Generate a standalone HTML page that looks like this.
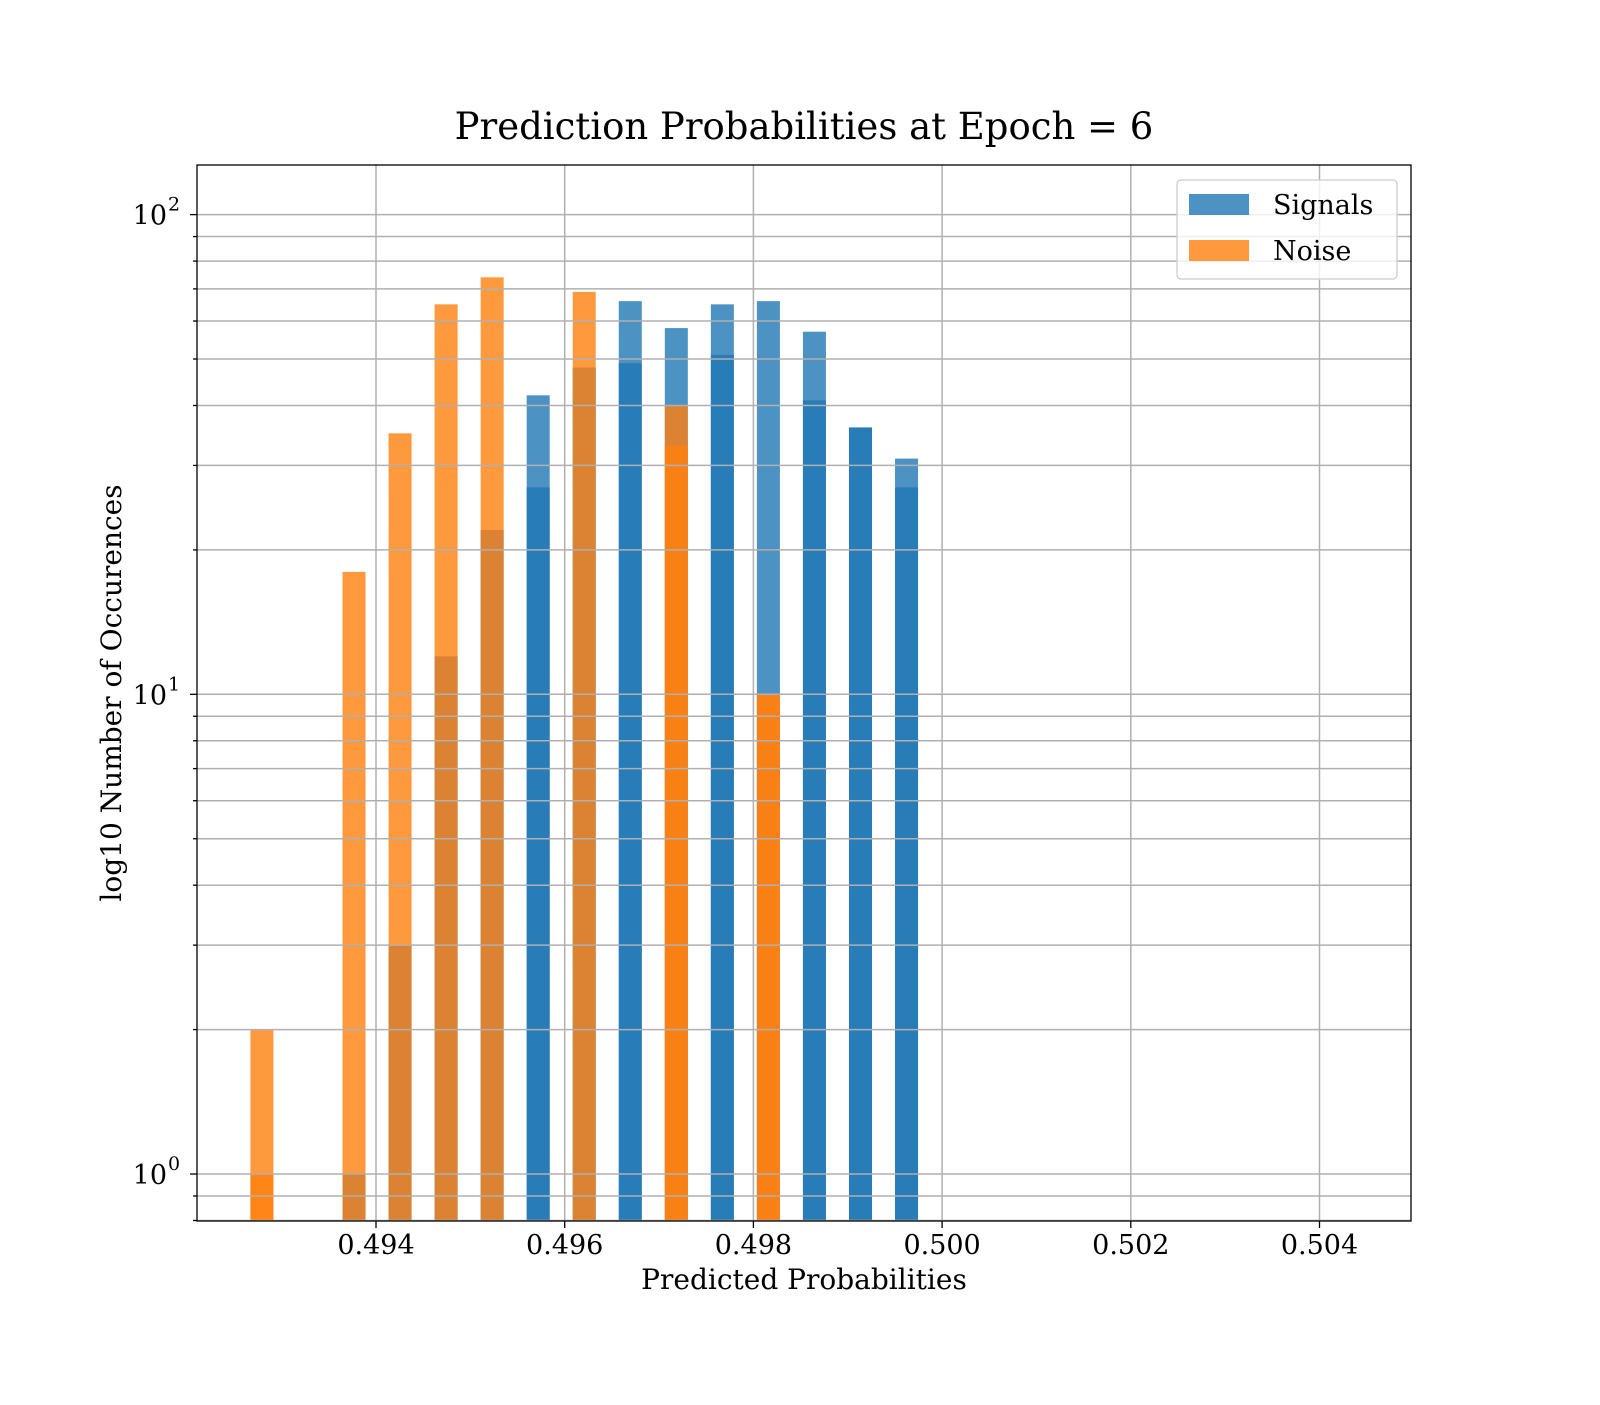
<!DOCTYPE html>
<html><head><meta charset="utf-8"><style>
html,body{margin:0;padding:0;background:#fff}
text{font-family:"DejaVu Serif","Liberation Serif",serif;fill:#000}
</style></head><body>
<svg id="chart" width="1600" height="1400" xmlns="http://www.w3.org/2000/svg">
<rect width="1600" height="1400" fill="#fff"/>
<text x="804" y="139" font-size="37" text-anchor="middle">Prediction Probabilities at Epoch = 6</text>
<g id="bars"></g>
<g id="grid"></g>
<rect x="197" y="165" width="1214" height="1056" fill="none" stroke="#000" stroke-width="1.3"/>
<g id="axes"></g>
<text x="804" y="1289" font-size="28" text-anchor="middle">Predicted Probabilities</text>
<text transform="translate(121,693) rotate(-90)" font-size="28" text-anchor="middle">log10 Number of Occurences</text>
<g>
<rect x="1177" y="180" width="220" height="99" rx="4" fill="#fff" fill-opacity="0.8" stroke="#ccc" stroke-width="1.3"/>
<g><rect x="1189" y="194" width="60" height="21" fill="#1f77b4" fill-opacity="0.8"/><text x="1273" y="214" font-size="27">Signals</text></g>
<g><rect x="1189" y="240" width="60" height="21" fill="#ff7f0e" fill-opacity="0.8"/><text x="1273" y="260" font-size="27">Noise</text></g>
</g>
</svg>
<script>
const binStart = 0.492791;
const binStep = 0.000488;
const binWidth = 0.000244;
const sigA = [0,0,1,3,12,22,42,48,66,58,65,66,57,36,31];
const sigB = [0,0,0,0,0,0,27,0,49,0,51,0,41,36,27];
const noiseA = [2,0,18,35,65,74,0,69,0,40,0,10,0,0,0];
const noiseB = [1,0,0,0,0,0,0,0,0,33,0,10,0,0,0];
const xTicks = [0.494,0.496,0.498,0.500,0.502,0.504];
const xTickLabels = ["0.494","0.496","0.498","0.500","0.502","0.504"];
const yDecades = [0,1,2];

const NS="http://www.w3.org/2000/svg";
const X0=197,X1=1411,Y0=165,Y1=1221;
function xs(v){return 376+(v-0.494)/0.002*188.7;}
function ys(v){return 1174-Math.log10(v)*479.7;}
function mk(tag,attrs,parent){const e=document.createElementNS(NS,tag);for(const k in attrs)e.setAttribute(k,attrs[k]);parent.appendChild(e);return e;}
const bars=document.getElementById('bars');
const series=[[sigA,'#1f77b4','signal'],[sigB,'#1f77b4','signal'],[noiseA,'#ff7f0e','noise'],[noiseB,'#ff7f0e','noise']];
series.forEach(([arr,col,nm])=>{
  arr.forEach((v,i)=>{
    if(v<=0)return;
    const c=binStart+i*binStep;
    const xl=xs(c-binWidth/2), xr=xs(c+binWidth/2);
    const yt=ys(v);
    const r=mk('rect',{x:xl,y:yt,width:xr-xl,height:Y1-yt,fill:col,'fill-opacity':0.8},bars);
    
    
  });
});
const grid=document.getElementById('grid');
const axes=document.getElementById('axes');
xTicks.forEach((t,i)=>{
  const x=xs(t);
  const g=mk('line',{x1:x,x2:x,y1:Y0,y2:Y1,stroke:'#b0b0b0','stroke-width':1.5},grid);
  
  
  mk('line',{x1:x,x2:x,y1:Y1,y2:Y1+7,stroke:'#000','stroke-width':1.3},axes);
  const tx=mk('text',{x:x,y:Y1+33,'font-size':27,'text-anchor':'middle'},axes);
  tx.textContent=xTickLabels[i];
  
  
});
for(let d=-1;d<=2;d++){
  for(let m=1;m<=9;m++){
    const v=m*Math.pow(10,d);
    const y=ys(v);
    if(y<Y0||y>Y1)continue;
    const g=mk('line',{x1:X0,x2:X1,y1:y,y2:y,stroke:'#b0b0b0','stroke-width':1.5},grid);
    
    
    mk('line',{x1:X0-(m===1?7:4),x2:X0,y1:y,y2:y,stroke:'#000','stroke-width':1.3},axes);
  }
}
yDecades.forEach(d=>{
  const y=ys(Math.pow(10,d));
  const t=mk('text',{x:X0-30,y:y+10,'font-size':27,'text-anchor':'end'},axes);
  t.textContent='10';
  
  
  const s=mk('text',{x:X0-29,y:y-4,'font-size':19,'text-anchor':'start'},axes);
  s.textContent=String(d);
});
</script>
</body></html>
